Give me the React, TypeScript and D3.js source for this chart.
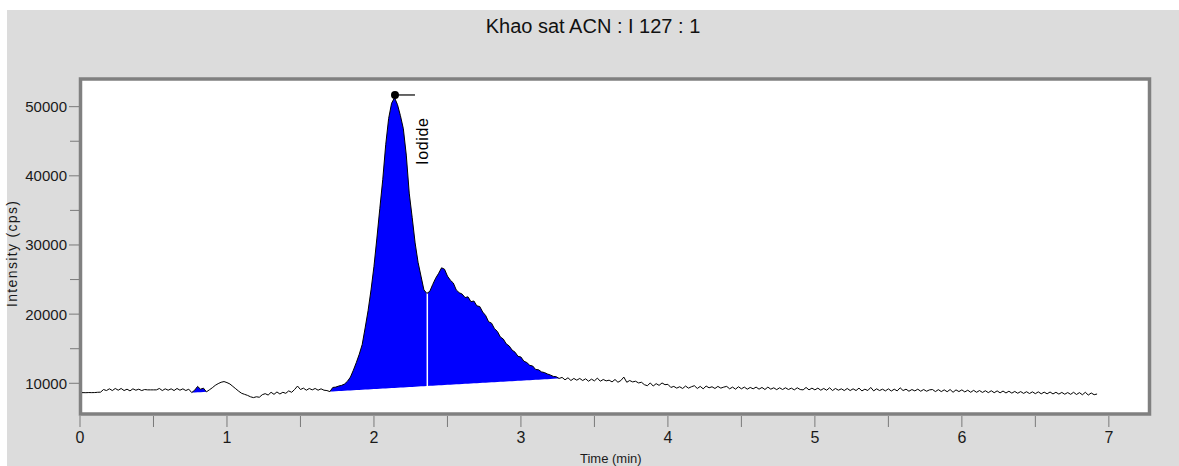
import React from 'react';
import * as d3 from 'd3';

// ---------- data ----------
const title = 'Khao sat ACN : I 127 : 1';
const xTitle = 'Time (min)';
const yTitle = 'Intensity (cps)';
const xTicks = [0, 1, 2, 3, 4, 5, 6, 7];
const xMinorTicks = [0.5, 1.5, 2.5, 3.5, 4.5, 5.5, 6.5];
const yTicks = [10000, 20000, 30000, 40000, 50000];
const yMinorTicks = [15000, 25000, 35000, 45000];

const sampleStart = 0; // min
const sampleStep = 0.02; // min
const intensity = [
  8640, 8650, 8640, 8660, 8650, 8660, 8700, 8720, 9100, 8950,
  9200, 8950, 9250, 9000, 9250, 8950, 9150, 8900, 9200, 9000,
  9150, 8950, 9100, 9050, 9050, 9050, 9050, 9250, 8950, 9200,
  9000, 9200, 8950, 9250, 9000, 9200, 8950, 9150, 8660, 9000,
  9550, 9150, 9300, 8760, 9050, 9350, 9700, 9950, 10150, 10250,
  10100, 9900, 9550, 9200, 8850, 8550, 8400, 8250, 8050, 7930,
  8050, 7980, 8350, 8500, 8300, 8700, 8400, 8750, 8450, 8700,
  8550, 8900, 8700, 9100, 9600, 9100, 9300, 9000, 9250, 9050,
  9250, 9000, 9200, 9000, 8950, 8800, 9400, 9450, 9600, 9700,
  9900, 10300, 10900, 11900, 13000, 14200, 15600, 18000, 20500, 23500,
  26900, 31000, 35300, 39500, 44500, 48300, 50500, 51300, 50300, 48700,
  46800, 43000, 37500, 34000, 30300, 27500, 25500, 23500, 23000, 23300,
  24300, 25200, 25900, 26700, 26500, 25500, 24900, 24500, 23500, 23100,
  22900, 22400, 22500, 21800, 21900, 21200, 21100, 20300, 19800, 18900,
  18700, 17900, 17500, 16700, 16400, 15700, 15400, 14800, 14500, 13900,
  13800, 13200, 13000, 12600, 12500, 12000, 11950, 11650, 11550, 11350,
  11200, 11000, 10950, 10700, 10850, 10500, 10800, 10400, 10700, 10450,
  10700, 10400, 10650, 10300, 10600, 10350, 10750, 10300, 10550, 10350,
  10450, 10200, 10550, 10150, 10400, 10900, 10150, 10400, 10200, 10300,
  10050, 10150, 9800, 9650, 10050, 9600, 9950, 9700, 10050, 9800,
  9850, 9400, 9550, 9300, 9500, 9250, 9600, 9300, 9500, 9650,
  9250, 9550, 9200, 9600, 9350, 9500, 9250, 9550, 9300, 9450,
  9550, 9200, 9450, 9150, 9500, 9200, 9450, 9150, 9400, 9200,
  9450, 9150, 9400, 9100, 9450, 9150, 9350, 9080, 9350, 9100,
  9350, 9100, 9300, 9050, 9350, 9100, 9050, 9400, 9050, 9300,
  9050, 9300, 9000, 9250, 9000, 9350, 8950, 9250, 9000, 9200,
  8950, 9250, 8950, 9200, 8950, 9300, 8900, 9150, 8950, 9400,
  8900, 9200, 8950, 9150, 8900, 9200, 8880, 9150, 8900, 9350,
  8950, 9150, 8850, 9100, 8900, 9150, 8850, 9100, 8850, 9050,
  9100, 8800, 9080, 8800, 9050, 8780, 9100, 8700, 9050, 8800,
  9050, 8750, 9000, 8700, 8980, 8700, 8950, 8680, 8920, 8650,
  8920, 8640, 8900, 8620, 8880, 8600, 8850, 8580, 8820, 8560,
  8800, 8540, 8780, 8520, 8760, 8500, 8760, 8480, 8720, 8480,
  8740, 8460, 8700, 8440, 8680, 8420, 8660, 8400, 8700, 8380,
  8650, 8340, 8700, 8300, 8600, 8350, 8450,
];

const peakLabel = 'Iodide';
const peakTime = 2.143;
const peakValue = 51690;

// integrated regions: start/end time, optional split (drop line) time
const integrationStarts = [0.76, 1.7];
const integrationEnds = [0.86, 3.26];
const integrationSplits: (number | null)[] = [null, 2.363];

// ---------- layout ----------
const W = 1179;
const H = 466;
const frame = { left: 80.5, right: 1149.5, top: 79, bottom: 414 };
const FONT = '"Liberation Sans", Arial, Helvetica, sans-serif';

const times = intensity.map((_, i) => sampleStart + i * sampleStep);
const series = times.map((t, i) => ({ t, v: intensity[i] }));

function valueAt(t: number): number {
  const i = d3.bisector((d: { t: number }) => d.t).left(series, t);
  if (i <= 0) return series[0].v;
  if (i >= series.length) return series[series.length - 1].v;
  const a = series[i - 1];
  const b = series[i];
  const f = (t - a.t) / (b.t - a.t);
  return a.v + (b.v - a.v) * f;
}

export default function App() {
  const x = d3.scaleLinear().domain([0, 7.28]).range([80, 1150]);
  const y = d3.scaleLinear().domain([5560, 54000]).range([414, 79]);

  const line = d3
    .line<{ t: number; v: number }>()
    .x((d) => x(d.t))
    .y((d) => y(d.v));

  const regions = integrationStarts.map((s, k) => {
    const e = integrationEnds[k];
    const vs = valueAt(s);
    const ve = valueAt(e);
    const base = d3.scaleLinear().domain([s, e]).range([vs, ve]);
    const pts = [
      { t: s, v: vs },
      ...series.filter((d) => d.t > s + 1e-9 && d.t < e - 1e-9),
      { t: e, v: ve },
    ];
    const area = d3
      .area<{ t: number; v: number }>()
      .x((d) => x(d.t))
      .y0((d) => y(base(d.t)))
      .y1((d) => y(d.v));
    const split = integrationSplits[k];
    return {
      path: area(pts) || '',
      split:
        split == null
          ? null
          : { x: x(split), y0: y(base(split)), y1: y(valueAt(split)) },
    };
  });

  const px = x(peakTime);
  const py = y(peakValue);

  return (
    <svg
      width={W}
      height={H}
      style={{ position: 'absolute', left: 0, top: 0, fontFamily: FONT }}
    >
      <rect x={0} y={0} width={W} height={H} fill="#ffffff" />
      <rect x={7} y={10} width={W - 7} height={H - 10} fill="#dcdcdc" />

      <text x={593} y={33} textAnchor="middle" fontSize={20} fill="#111">
        {title}
      </text>

      <defs>
        <clipPath id="plotClip">
          <rect x={82} y={81} width={1066} height={331} />
        </clipPath>
      </defs>

      <rect
        x={frame.left}
        y={frame.top}
        width={frame.right - frame.left}
        height={frame.bottom - frame.top}
        fill="#ffffff"
        stroke="#808080"
        strokeWidth={3.5}
      />

      {/* y axis ticks */}
      {yTicks.map((v) => (
        <g key={'yt' + v}>
          <line x1={69} x2={79} y1={y(v)} y2={y(v)} stroke="#7a7a7a" strokeWidth={1} />
          <text x={67} y={y(v) + 5.5} textAnchor="end" fontSize={15} fill="#1a1a1a">
            {v}
          </text>
        </g>
      ))}
      {yMinorTicks.map((v) => (
        <line key={'ym' + v} x1={70} x2={79} y1={y(v)} y2={y(v)} stroke="#7a7a7a" strokeWidth={1} />
      ))}

      {/* x axis ticks */}
      {xTicks.map((t) => (
        <g key={'xt' + t}>
          <line x1={x(t)} x2={x(t)} y1={416} y2={427} stroke="#7a7a7a" strokeWidth={1} />
          <text x={x(t)} y={443} textAnchor="middle" fontSize={16} fill="#1a1a1a">
            {t}
          </text>
        </g>
      ))}
      {xMinorTicks.map((t) => (
        <line key={'xm' + t} x1={x(t)} x2={x(t)} y1={416} y2={427} stroke="#7a7a7a" strokeWidth={1} />
      ))}

      <text
        transform={`translate(17,254) rotate(-90)`}
        textAnchor="middle"
        fontSize={14}
        fill="#1a1a1a"
        textLength={106}
        lengthAdjust="spacing"
      >
        {yTitle}
      </text>
      <text x={580} y={463} fontSize={13} fill="#1a1a1a">
        {xTitle}
      </text>

      <g clipPath="url(#plotClip)">
        {regions.map((r, k) => (
          <path key={'a' + k} d={r.path} fill="#0000ff" stroke="none" />
        ))}
        {regions.map((r, k) =>
          r.split ? (
            <line
              key={'s' + k}
              x1={r.split.x}
              x2={r.split.x}
              y1={r.split.y0}
              y2={r.split.y1}
              stroke="#ffffff"
              strokeWidth={1.5}
            />
          ) : null
        )}
        <path d={line(series) || ''} fill="none" stroke="#000" strokeWidth={1} />
        <line x1={px} x2={px + 20} y1={py} y2={py} stroke="#000" strokeWidth={1.2} />
        <circle cx={px} cy={py} r={4} fill="#000" />
        <text
          transform={`translate(${px + 33},${py + 70}) rotate(-90)`}
          fontSize={16}
          fill="#000"
          textLength={47}
          lengthAdjust="spacing"
        >
          {peakLabel}
        </text>
      </g>
    </svg>
  );
}
